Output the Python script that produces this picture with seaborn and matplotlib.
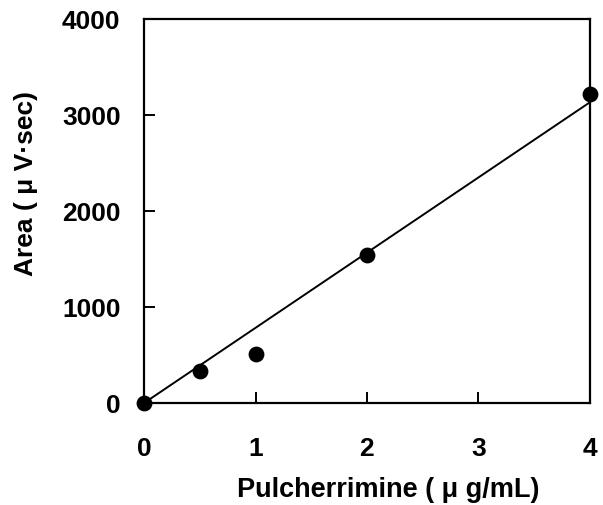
import numpy as np
import pandas as pd
import matplotlib
matplotlib.use("Agg")
import matplotlib.pyplot as plt
import seaborn as sns

# Calibration data
concentration = [0.0, 0.5, 1.0, 2.0, 4.0]
area = [0, 330, 510, 1540, 3220]
x_ticks = [0, 1, 2, 3, 4]
y_ticks = [0, 1000, 2000, 3000, 4000]

df = pd.DataFrame({"conc": concentration, "area": area})

# least-squares line through the origin
x = np.asarray(concentration)
y = np.asarray(area, dtype=float)
slope = float(np.sum(x * y) / np.sum(x * x))
fit = pd.DataFrame({"conc": [0.0, 4.0]})
fit["area"] = slope * fit["conc"]

sns.set_style("ticks")
plt.rcParams["font.family"] = ["Liberation Sans", "DejaVu Sans"]
for key in ("text.color", "axes.labelcolor", "xtick.color", "ytick.color",
            "axes.edgecolor"):
    plt.rcParams[key] = "black"

fig = plt.figure(figsize=(6.03, 5.06), dpi=100)
ax = fig.add_axes([0.239, 0.2016, 0.739, 0.7589])

sns.lineplot(data=fit, x="conc", y="area", ax=ax, color="black", linewidth=1.4)
sns.scatterplot(data=df, x="conc", y="area", ax=ax, color="black", s=130,
                edgecolor="black", linewidth=0, clip_on=False, zorder=5)

ax.set_xlim(0, 4)
ax.set_ylim(0, 4000)
ax.set_xticks(x_ticks)
ax.set_yticks(y_ticks)
ax.set_xticklabels([str(t) for t in x_ticks])
ax.set_yticklabels([str(t) for t in y_ticks])
ax.tick_params(direction="in", length=8, width=1.4, labelsize=19,
               top=False, right=False)
ax.tick_params(axis="x", pad=24)
ax.tick_params(axis="y", pad=17)
for lbl in ax.get_xticklabels() + ax.get_yticklabels():
    lbl.set_fontweight("bold")

for sp in ax.spines.values():
    sp.set_visible(True)
    sp.set_linewidth(1.6)
    sp.set_color("black")

ax.set_xlabel("Pulcherrimine ( μ g/mL)", fontsize=19.5, fontweight="bold")
ax.set_ylabel("Area ( μ V·sec)", fontsize=19, fontweight="bold")
ax.xaxis.set_label_coords(0.547, -0.19)
ax.yaxis.set_label_coords(-0.238, 0.573)

fig.savefig("out.png", dpi=100, facecolor="white")
